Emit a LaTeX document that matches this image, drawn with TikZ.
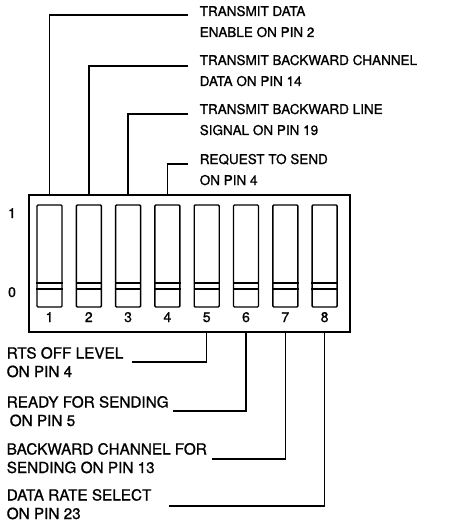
\documentclass[tikz,border=0pt]{standalone}
\usepackage{fontspec}
\setmainfont{TeX Gyre Heros}[FakeBold=1.0]
\begin{document}
\begin{tikzpicture}[x=1pt,y=-1pt,
  line width=1.5pt,
  sw/.style={draw, rounded corners=1pt, minimum width=25pt, minimum height=102pt, inner sep=0pt, line width=1.4pt},
  toplab/.style={anchor=base west, align=left, inner sep=0pt, font=\fontsize{13.5}{21}\selectfont},
  botlab/.style={anchor=base west, align=left, inner sep=0pt, font=\fontsize{15.3}{18.5}\selectfont},
  num/.style={inner sep=0pt, anchor=base, font=\fontsize{14}{14}\selectfont},
  lead/.style={line width=1.5pt}
]
\useasboundingbox (0,0) rectangle (449,524);
\node[draw, line width=1.8pt, minimum width=321pt, minimum height=137pt, inner sep=0pt, anchor=north west] (box) at (28,194) {};
\foreach \i in {1,...,8} {
  \node[sw] (s\i) at ({49.5+39.3*(\i-1)},256) {};
  \draw[line width=1.4pt] (s\i.west |- 0,283) -- (s\i.east |- 0,283);
  \draw[line width=1.4pt] (s\i.west |- 0,289) -- (s\i.east |- 0,289);
  \node[num] (n\i) at (s\i.center |- 0,322) {\i};
}
\node[num] (one) at (12,218) {1};
\node[num] (zero) at (12,297) {0};

\node[toplab] (t1) at (199,37) {TRANSMIT DATA\\ENABLE ON PIN 2};
\node[toplab] (t2) at (199,86) {TRANSMIT BACKWARD CHANNEL\\DATA ON PIN 14};
\node[toplab] (t3) at (199,135) {TRANSMIT BACKWARD LINE\\SIGNAL ON PIN 19};
\node[toplab] (t4) at (199,185) {REQUEST TO SEND\\ON PIN 4};

\coordinate (f1) at (188,15);
\coordinate (f2) at (188,66);
\coordinate (f3) at (188,114);
\coordinate (f4) at (188,164);
\draw[lead] (f1) -| (s1.north |- box.north);
\draw[lead] (f2) -| (s2.north |- box.north);
\draw[lead] (f3) -| (s3.north |- box.north);
\draw[lead] (f4) -| (s4.north |- box.north);

\node[botlab] (b5) at (6,377) {RTS OFF LEVEL\\ON PIN 4};
\node[botlab] (b6) at (6,426) {READY FOR SENDING\\\hspace*{3pt}ON PIN 5};
\node[botlab] (b7) at (6,473) {BACKWARD CHANNEL FOR\\SENDING ON PIN 13};
\node[botlab] (b8) at (6,519) {DATA RATE SELECT\\ON PIN 23};

\coordinate (e5) at (132,362);
\coordinate (e6) at (173,411);
\coordinate (e7) at (212,459);
\coordinate (e8) at (169,506);
\draw[lead] (e5) -| (s5.south |- box.south);
\draw[lead] (e6) -| (s6.south |- box.south);
\draw[lead] (e7) -| (s7.south |- box.south);
\draw[lead] (e8) -| (s8.south |- box.south);
\end{tikzpicture}
\end{document}
